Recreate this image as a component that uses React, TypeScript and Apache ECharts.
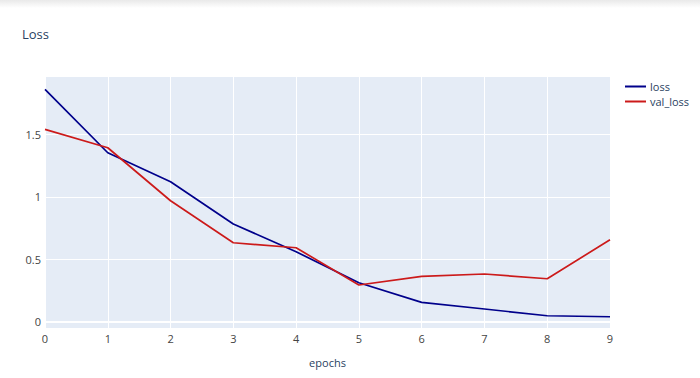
import React, { useEffect, useRef } from "react";
import * as echarts from "echarts";

const epochs = [0, 1, 2, 3, 4, 5, 6, 7, 8, 9];
const lossValues = [1.859, 1.352, 1.12, 0.782, 0.56, 0.312, 0.155, 0.102, 0.048, 0.04];
const valLossValues = [1.539, 1.392, 0.968, 0.632, 0.592, 0.294, 0.363, 0.382, 0.344, 0.656];
const yTicks = [0, 0.5, 1, 1.5];
const xTicks = [0, 1, 2, 3, 4, 5, 6, 7, 8, 9];

const FONT = "'Open Sans', 'DejaVu Sans', sans-serif";
const TEXT = "#2a3f5f";

export default function App() {
  const ref = useRef<HTMLDivElement>(null);
  useEffect(() => {
    if (!ref.current) return;
    const chart = echarts.init(ref.current, null, { renderer: "svg" });
    chart.setOption({
      animation: false,
      backgroundColor: "#ffffff",
      textStyle: { fontFamily: FONT },
      graphic: [
        {
          type: "rect",
          shape: { x: 0, y: 0, width: 700, height: 8 },
          style: {
            fill: new echarts.graphic.LinearGradient(0, 0, 0, 1, [
              { offset: 0, color: "#e9e9e9" },
              { offset: 1, color: "#ffffff" },
            ]),
          },
          silent: true,
        },
      ],
      title: {
        text: "Loss",
        left: 17,
        top: 22,
        textStyle: { fontFamily: FONT, fontSize: 13, fontWeight: "normal", color: TEXT },
      },
      legend: {
        orient: "vertical",
        left: 620,
        top: 76,
        icon: "rect",
        itemWidth: 21,
        itemHeight: 2,
        itemGap: 4,
        textStyle: { fontFamily: FONT, fontSize: 11, color: TEXT, padding: [0, 0, 0, -1] },
        data: ["loss", "val_loss"],
      },
      grid: { left: 45, right: 90, top: 77, bottom: 50, containLabel: false },
      xAxis: {
        type: "value",
        min: 0,
        max: 9,
        interval: 1,
        name: "epochs",
        nameLocation: "middle",
        nameGap: 29,
        nameTextStyle: { fontFamily: FONT, fontSize: 11, color: TEXT },
        axisLine: { show: false },
        axisTick: { show: false },
        axisLabel: {
          fontFamily: FONT,
          fontSize: 11,
          color: "#444",
          margin: 5,
          customValues: xTicks,
        },
        splitLine: { show: true, lineStyle: { color: "#ffffff", width: 1 } },
      },
      yAxis: {
        type: "value",
        min: -0.05,
        max: 1.958,
        axisLine: { show: false },
        axisTick: { show: false, customValues: yTicks },
        axisLabel: {
          fontFamily: FONT,
          fontSize: 11,
          color: "#444",
          margin: 4,
          customValues: yTicks,
        },
        splitLine: { show: true, lineStyle: { color: "#ffffff", width: 1 } },
      },
      series: [
        {
          name: "loss",
          type: "line",
          data: epochs.map((e, i) => [e, lossValues[i]]),
          showSymbol: false,
          symbol: "none",
          lineStyle: { color: "#00008b", width: 1.7 },
          itemStyle: { color: "#00008b" },
          markArea: {
            silent: true,
            z: -1,
            itemStyle: { color: "#e5ecf6" },
            data: [[{ xAxis: 0, yAxis: -0.05 }, { xAxis: 9, yAxis: 1.958 }]],
          },
          markLine: {
            silent: true,
            symbol: "none",
            label: { show: false },
            lineStyle: { color: "#ffffff", width: 2, type: "solid" },
            data: [{ yAxis: 0 }],
          },
          z: 3,
        },
        {
          name: "val_loss",
          type: "line",
          data: epochs.map((e, i) => [e, valLossValues[i]]),
          showSymbol: false,
          symbol: "none",
          lineStyle: { color: "#cc1a1a", width: 1.7 },
          itemStyle: { color: "#cc1a1a" },
          z: 3,
        },
      ],
    });
    return () => chart.dispose();
  }, []);
  return (
    <div
      ref={ref}
      style={{ position: "fixed", left: 0, top: 0, width: 700, height: 378 }}
    />
  );
}
